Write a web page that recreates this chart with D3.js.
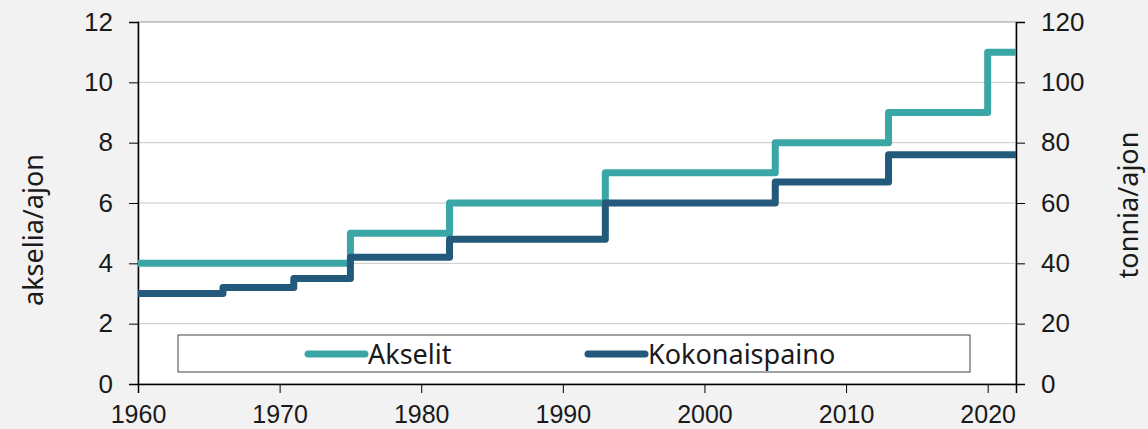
<!DOCTYPE html>
<html>
<head>
<meta charset="utf-8">
<script src="https://cdn.jsdelivr.net/npm/d3@7"></script>
<style>
  html, body { margin: 0; padding: 0; background: #f2f2f2; }
  svg { display: block; font-family: "Noto Sans", "DejaVu Sans", sans-serif; }
</style>
</head>
<body>
<svg id="chart" width="1148" height="429"></svg>
<script>
// Step years and values.
const akselitYears = [1960, 1975, 1982, 1993, 2005, 2013, 2020, 2022];
const akselitValues = [4, 5, 6, 7, 8, 9, 11, 11];
const painoYears = [1960, 1966, 1971, 1975, 1982, 1993, 2005, 2013, 2022];
const painoValues = [30, 32, 35, 42, 48, 60, 67, 76, 76];
const xTicks = [1960, 1970, 1980, 1990, 2000, 2010, 2020];
const leftTicks = [0, 2, 4, 6, 8, 10, 12];
const rightTicks = [0, 20, 40, 60, 80, 100, 120];
const seriesNames = ["Akselit", "Kokonaispaino"];
const colors = ["#3aa6a6", "#23597b"];

const svg = d3.select("#chart");
const m = { left: 138, right: 1016, top: 22, bottom: 384 };

// Scales
const x = d3.scaleLinear().domain([1960, 2022]).range([m.left, m.right]);
const yL = d3.scaleLinear().domain([0, 12]).range([m.bottom, m.top]);
const yR = d3.scaleLinear().domain([0, 120]).range([m.bottom, m.top]);

// Plot background
svg.append("rect")
  .attr("x", m.left).attr("y", m.top)
  .attr("width", m.right - m.left).attr("height", m.bottom - m.top)
  .attr("fill", "#fff")
  .attr("stroke", "#9a9a9a");

// Gridlines
svg.append("g")
  .selectAll("line")
  .data(leftTicks.slice(1, -1))
  .enter()
  .append("line")
  .attr("x1", m.left).attr("x2", m.right)
  .attr("y1", d => yL(d)).attr("y2", d => yL(d))
  .attr("stroke", "#c8c8c8").attr("stroke-width", 1);

// Axes
const fs = "26px";
const xAxis = svg.append("g")
  .attr("transform", `translate(0,${m.bottom})`)
  .call(d3.axisBottom(x).tickValues(xTicks).tickFormat(d3.format("d")).tickSize(9).tickPadding(12));
const leftAxis = svg.append("g")
  .attr("transform", `translate(${m.left},0)`)
  .call(d3.axisLeft(yL).tickValues(leftTicks).tickSize(9).tickPadding(16));
const rightAxis = svg.append("g")
  .attr("transform", `translate(${m.right},0)`)
  .call(d3.axisRight(yR).tickValues(rightTicks).tickSize(9).tickPadding(16));

[xAxis, leftAxis, rightAxis].forEach(a => {
  a.select(".domain").attr("stroke", "#000").attr("stroke-width", 1.5);
  a.selectAll(".tick line").attr("stroke", "#000");
  a.selectAll("text").attr("fill", "#1a1a1a").style("font-size", fs).attr("font-family", null);
});
xAxis.selectAll("text").attr("dy", "0.71em").style("font-size", "25px");

// Step lines
const line = yScale => d3.line()
  .x(d => x(d[0]))
  .y(d => yScale(d[1]))
  .curve(d3.curveStepAfter);

const series = [
  { pts: d3.zip(akselitYears, akselitValues), gen: line(yL) },
  { pts: d3.zip(painoYears, painoValues), gen: line(yR) }
];

svg.append("g")
  .selectAll("path")
  .data(series)
  .enter()
  .append("path")
  .attr("d", d => d.gen(d.pts))
  .attr("fill", "none")
  .attr("stroke", (d, i) => colors[i])
  .attr("stroke-width", 7)
  .attr("stroke-linejoin", "round");

// Axis titles
svg.append("text")
  .attr("transform", "translate(43,230) rotate(-90)")
  .attr("text-anchor", "middle")
  .style("font-size", "27px")
  .attr("fill", "#1a1a1a")
  .text("akselia/ajon");
svg.append("text")
  .attr("transform", "translate(1138,205) rotate(-90)")
  .attr("text-anchor", "middle")
  .style("font-size", "27px")
  .attr("fill", "#1a1a1a")
  .text("tonnia/ajon");

// Legend
const lg = svg.append("g");
lg.append("rect")
  .attr("x", 178).attr("y", 335).attr("width", 792).attr("height", 37)
  .attr("fill", "#fff").attr("stroke", "#444").attr("stroke-width", 1);
const legX = [308, 588];
seriesNames.forEach((name, i) => {
  lg.append("line")
    .attr("x1", legX[i]).attr("x2", legX[i] + 57)
    .attr("y1", 354).attr("y2", 354)
    .attr("stroke", colors[i]).attr("stroke-width", 7).attr("stroke-linecap", "round");
  lg.append("text")
    .attr("x", legX[i] + 60).attr("y", 354).attr("dy", "0.36em")
    .style("font-size", "27px").attr("fill", "#1a1a1a")
    .text(name);
});
</script>
</body>
</html>
